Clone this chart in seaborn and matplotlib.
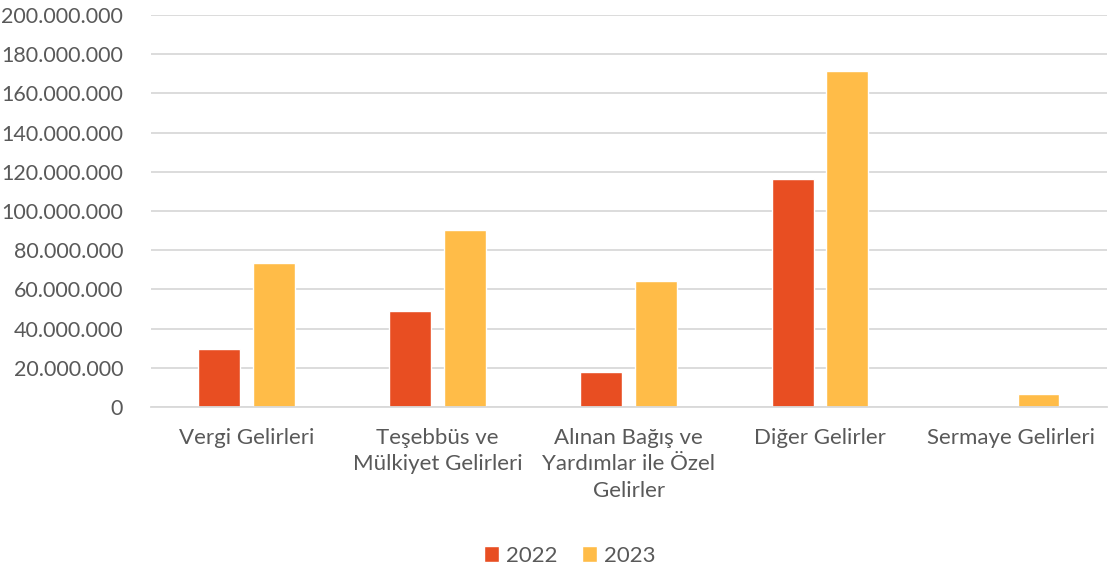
import pandas as pd
import matplotlib.pyplot as plt
import seaborn as sns
from matplotlib.ticker import FuncFormatter

categories = ['Vergi Gelirleri', 'Teşebbüs ve\nMülkiyet Gelirleri',
              'Alınan Bağış ve\nYardımlar ile Özel\nGelirler', 'Diğer Gelirler',
              'Sermaye Gelirleri']
years = ['2022', '2023']
values_2022 = [29.7e6, 49.0e6, 17.9e6, 116.2e6, 0.0]
values_2023 = [73.6e6, 90.3e6, 64.4e6, 171.3e6, 6.6e6]
yticks = list(range(0, 200_000_001, 20_000_000))

df = pd.DataFrame({
    'Kategori': categories * 2,
    'Yıl': [years[0]] * 5 + [years[1]] * 5,
    'Tutar': values_2022 + values_2023,
})

sns.set_theme(style="white")
plt.rcParams['font.family'] = ['Lato', 'DejaVu Sans']
text_col = '#595959'

fig = plt.figure(figsize=(11.09, 5.65), dpi=100)
ax = fig.add_axes([0.136, 0.2796, 0.862, 0.6939])
sns.barplot(data=df, x='Kategori', y='Tutar', hue='Yıl',
            palette=['#E84E22', '#FFBC48'], width=0.573, gap=0.236,
            saturation=1, ax=ax)

ax.set_ylim(0, 200_000_000)
ax.set_yticks(yticks)
ax.yaxis.set_major_formatter(FuncFormatter(lambda v, p: f'{int(v):,}'.replace(',', '.')))
ax.grid(axis='y', color='#D9D9D9', linewidth=1.3)
ax.set_axisbelow(True)
for s in ['top', 'right', 'left']:
    ax.spines[s].set_visible(False)
ax.spines['bottom'].set_color('#D9D9D9')
ax.spines['bottom'].set_linewidth(1.3)
ax.set_xlabel('')
ax.set_ylabel('')
ax.tick_params(axis='both', length=0, labelsize=16, colors=text_col)
ax.tick_params(axis='y', labelsize=15.5, pad=20)
ax.tick_params(axis='x', pad=15)
for lbl in ax.get_xticklabels():
    lbl.set_linespacing(1.4)
    lbl.set_verticalalignment('top')

ax.legend(loc='center', bbox_to_anchor=(0.438, -0.38), ncol=2, frameon=False,
          fontsize=16, labelcolor=text_col, handlelength=0.7, handleheight=0.7,
          handletextpad=0.3, columnspacing=1.1)

fig.savefig('out.png', dpi=100)
